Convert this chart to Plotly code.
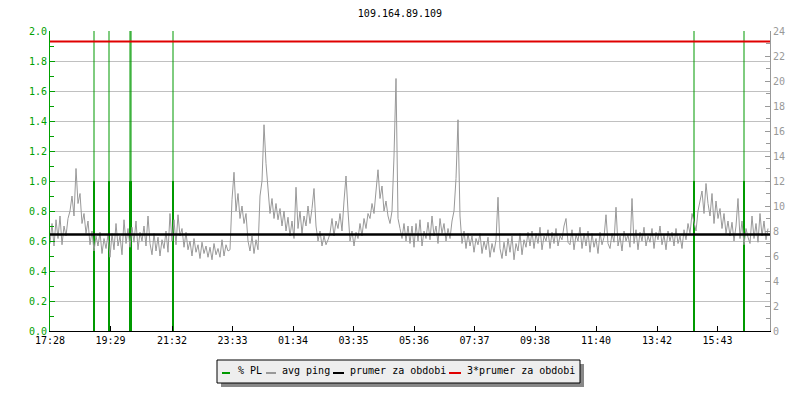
import plotly.graph_objects as go

# ---------------- data ----------------
title_text = "109.164.89.109"
tick_minutes = [0, 121, 244, 365, 486, 607, 728, 849, 970, 1092, 1214, 1335]
tick_labels = ["17:28", "19:29", "21:32", "23:33", "01:34", "03:35",
               "05:36", "07:37", "09:38", "11:40", "13:42", "15:43"]

# avg ping in ms, one sample every 4 minutes starting at 17:28
ping_step_min = 4
avg_ping = [
    7.0, 8.6, 6.8, 8.9, 7.4, 9.2, 6.9, 8.4, 7.6, 9.0,
    9.6, 10.8, 9.2, 13.0, 10.2, 11.0, 8.6, 9.4, 7.8, 8.8,
    6.9, 8.0, 6.4, 7.6, 6.8, 7.9, 6.2, 7.4, 6.6, 7.7,
    5.9, 7.8, 6.5, 8.6, 6.8, 7.6, 6.1, 8.9, 7.0, 8.2,
    6.7, 8.3, 7.1, 8.8, 6.5, 7.9, 7.2, 8.4, 6.8, 9.2,
    7.0, 6.1, 7.8, 6.4, 7.5, 6.0, 7.3, 6.6, 8.0, 6.3,
    9.4, 7.2, 8.9, 6.9, 9.3, 7.6, 8.2, 6.7, 7.9, 6.5,
    7.2, 6.0, 7.4, 6.3, 6.9, 5.8, 7.1, 6.2, 6.8, 5.9,
    6.7, 5.7, 7.0, 6.1, 6.6, 5.9, 7.3, 6.0, 6.9, 6.4,
    6.5, 10.5, 12.7, 9.6, 11.0, 9.0, 10.0, 8.6, 9.4, 7.2,
    6.4, 7.6, 6.2, 7.3, 6.5, 10.8, 12.0, 16.5, 13.4, 11.0,
    9.4, 10.6, 9.0, 10.2, 8.9, 9.8, 8.4, 9.6, 8.0, 9.1,
    7.6, 8.8, 7.4, 11.5, 8.2, 9.6, 7.8, 9.2, 8.4, 10.0,
    8.6, 9.8, 11.4, 8.4, 7.2, 8.0, 6.8, 7.6, 6.9, 7.3,
    7.8, 9.0, 7.6, 8.8, 8.2, 9.4, 8.0, 10.4, 12.4, 9.6,
    7.2, 8.0, 6.8, 7.9, 7.4, 8.6, 7.6, 9.0, 8.2, 9.4,
    9.0, 10.2, 9.4, 11.2, 12.9, 10.6, 11.6, 9.6, 10.4, 9.2,
    8.6, 9.6, 14.0, 20.2, 9.0, 8.2, 7.4, 8.6, 7.2, 8.4,
    7.0, 8.4, 6.7, 8.6, 7.2, 8.9, 6.8, 8.0, 7.4, 8.7,
    7.3, 9.2, 7.6, 8.4, 7.0, 9.0, 7.8, 8.6, 7.2, 8.2,
    7.4, 8.8, 9.6, 12.2, 16.9, 9.2, 7.0, 8.0, 6.6, 7.8,
    6.8, 7.6, 6.3, 7.4, 6.9, 7.8, 6.2, 7.2, 6.5, 7.5,
    5.9, 7.0, 6.3, 7.3, 10.7, 6.6, 5.8, 7.1, 6.0, 7.4,
    6.3, 7.6, 5.7, 7.0, 6.4, 7.8, 6.1, 7.3, 6.7, 7.9,
    6.8, 8.0, 6.6, 7.8, 7.0, 8.3, 6.5, 7.6, 7.2, 8.1,
    6.6, 7.9, 7.0, 8.2, 6.8, 7.6, 7.3, 8.4, 9.0, 7.1,
    6.9, 8.1, 6.5, 7.7, 7.2, 8.3, 6.6, 7.8, 6.8, 8.0,
    6.3, 7.8, 6.7, 7.4, 6.2, 7.9, 6.9, 7.5, 9.3, 7.0,
    6.6, 7.8, 7.1, 9.9, 6.8, 7.6, 6.4, 8.0, 7.2, 7.7,
    6.7, 10.6, 7.0, 8.1, 6.5, 7.9, 7.2, 8.3, 6.8, 7.6,
    7.1, 8.2, 6.6, 7.9, 7.3, 8.4, 6.9, 7.7, 6.5, 8.0,
    7.2, 7.9, 6.8, 8.2, 7.0, 7.6, 6.6, 8.1, 7.3, 8.6,
    7.8, 9.4, 8.6, 8.0, 9.6, 10.4, 11.2, 9.4, 11.8, 10.2,
    9.2, 11.0, 8.6, 10.4, 9.0, 9.8, 8.2, 9.4, 7.8, 8.8,
    7.6, 8.7, 7.2, 8.4, 10.6, 7.4, 8.8, 6.9, 8.2, 7.5,
    7.0, 9.2, 7.4, 8.6, 7.1, 9.4, 7.6, 8.8, 7.3, 8.2,
]

# packet loss events (minutes after 17:28) and % PL value
pl_minutes = [88, 118, 160, 162, 246, 1288, 1388]
pl_values = [1.0, 1.0, 1.0, 1.0, 1.0, 1.0, 1.0]

avg_period = 7.72          # prumer za obdobi (ms)
avg_period_x3 = 3 * avg_period

legend_labels = ["% PL", "avg ping", "prumer za obdobi", "3*prumer za obdobi"]

# ---------------- styles ----------------
GREEN = "#009900"
GREEN_TXT = "#00a000"
GRAY = "#999999"
GRID = "#c0c0c0"
RED = "#e00000"
FONT = "DejaVu Sans Mono"

W, H = 800, 400
ML, MR, MT, MB = 50, 30, 31, 69
PW, PH = W - ML - MR, H - MT - MB


def px(xpix):
    return (xpix - ML) / PW


def py(ypix):
    return (H - MB - ypix) / PH


ping_x = [i * ping_step_min for i in range(len(avg_ping))]
x_max = 1440

fig = go.Figure()

# thin PL markers up to the top of the graph
thin_x, thin_y = [], []
for t in pl_minutes:
    thin_x += [t, t, None]
    thin_y += [0, 2.0, None]
fig.add_trace(go.Scatter(x=thin_x, y=thin_y, mode="lines",
                         line=dict(color=GREEN, width=1), hoverinfo="skip",
                         showlegend=False, yaxis="y"))

# avg ping
fig.add_trace(go.Scatter(x=ping_x, y=avg_ping, mode="lines",
                         line=dict(color=GRAY, width=1), name="avg ping",
                         showlegend=False, yaxis="y2"))

# PL bars
bar_x, bar_y = [], []
for t, v in zip(pl_minutes, pl_values):
    bar_x += [t, t, None]
    bar_y += [0, v, None]
fig.add_trace(go.Scatter(x=bar_x, y=bar_y, mode="lines",
                         line=dict(color=GREEN, width=2), name="% PL",
                         showlegend=False, yaxis="y"))

# averages
fig.add_trace(go.Scatter(x=[0, x_max], y=[avg_period, avg_period], mode="lines",
                         line=dict(color="black", width=2.5),
                         name="prumer za obdobi", showlegend=False, yaxis="y2"))
fig.add_trace(go.Scatter(x=[0, x_max], y=[avg_period_x3, avg_period_x3], mode="lines",
                         line=dict(color=RED, width=2),
                         name="3*prumer za obdobi", showlegend=False, yaxis="y2"))

fig.update_layout(
    width=W, height=H, autosize=False,
    margin=dict(l=ML, r=MR, t=MT, b=MB, pad=0, autoexpand=False),
    paper_bgcolor="white", plot_bgcolor="white",
    font=dict(family=FONT, size=10, color="black"),
    title=dict(text=title_text, x=0.5, xanchor="center", y=1 - 13 / H,
               yanchor="middle", automargin=False,
               font=dict(family=FONT, size=10, color="black")),
    showlegend=False,
    xaxis=dict(range=[0, x_max], tickvals=tick_minutes, ticktext=tick_labels,
               ticks="inside", ticklen=5, tickcolor="black", showline=True,
               linecolor="black", linewidth=1, showgrid=False, zeroline=False,
               automargin=False,
               tickfont=dict(family=FONT, size=10, color="black")),
    yaxis=dict(range=[0, 2.0], dtick=0.2, tickformat=".1f", ticks="inside",
               ticklen=5, tickcolor=GREEN_TXT, showline=True, linecolor=GREEN_TXT,
               linewidth=1, showgrid=True, gridcolor=GRID, gridwidth=1,
               zeroline=False, automargin=False,
               tickfont=dict(family=FONT, size=10, color=GREEN_TXT),
               minor=dict(dtick=0.1, ticks="inside", ticklen=4,
                          tickcolor=GREEN_TXT, showgrid=False)),
    yaxis2=dict(range=[0, 24], dtick=2, overlaying="y", side="right",
                ticks="inside", ticklen=5, tickcolor=GRAY, showline=True,
                linecolor=GRAY, linewidth=1, showgrid=False, zeroline=False,
                automargin=False,
                tickfont=dict(family=FONT, size=10, color=GRAY),
                minor=dict(dtick=1, ticks="inside", ticklen=4,
                           tickcolor=GRAY, showgrid=False)),
)

# ---------------- manual legend ----------------
shapes = []
shapes.append(dict(type="rect", xref="paper", yref="paper",
                   x0=px(221), x1=px(584), y0=py(364), y1=py(387),
                   fillcolor="#888888", line=dict(width=0)))
shapes.append(dict(type="rect", xref="paper", yref="paper",
                   x0=px(217), x1=px(580), y0=py(360), y1=py(383),
                   fillcolor="#eeeeee", line=dict(color="black", width=1)))
leg_colors = [GREEN, GRAY, "black", RED]
leg_line_x = [(222, 230), (266, 276), (333, 344), (449, 461)]
leg_text_x = [236, 280, 348, 465]
ann = []
for (a, b), c, tx, lab in zip(leg_line_x, leg_colors, leg_text_x, legend_labels):
    shapes.append(dict(type="line", xref="paper", yref="paper",
                       x0=px(a), x1=px(b), y0=py(373), y1=py(373),
                       line=dict(color=c, width=2)))
    ann.append(dict(xref="paper", yref="paper", x=px(tx), y=py(370.5),
                    xanchor="left", yanchor="middle", text=lab, showarrow=False,
                    font=dict(family=FONT, size=10, color="black")))
fig.update_layout(shapes=shapes, annotations=ann)

fig.write_html("out.html",
               config={"displayModeBar": False},
               post_script="document.body.style.margin='0';"
                           "document.body.style.overflow='hidden';")
